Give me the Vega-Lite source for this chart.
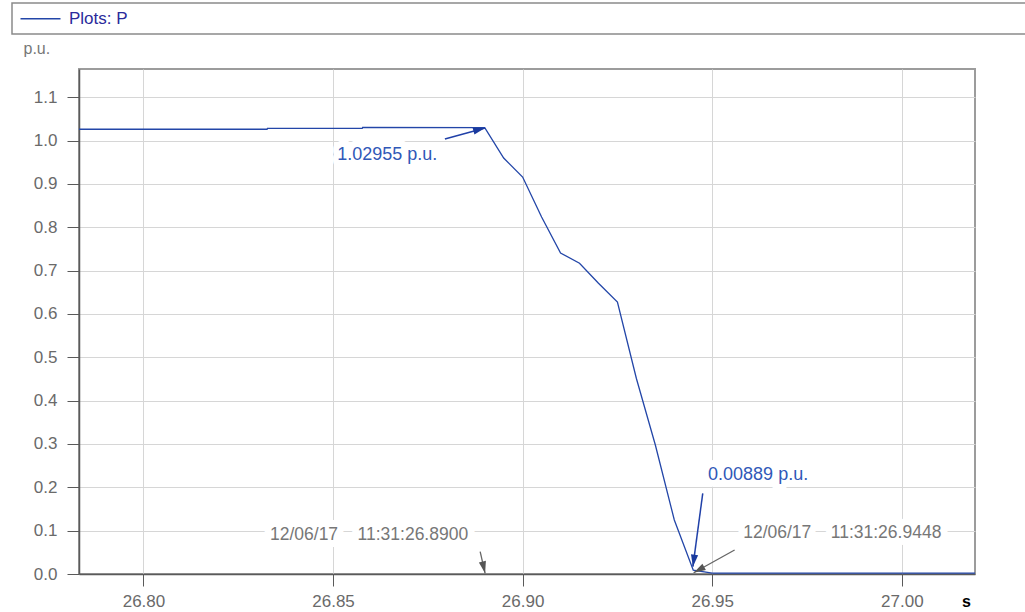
{
  "$schema": "https://vega.github.io/schema/vega-lite/v6.json",
  "autosize": {"type": "none"},
  "padding": {"left": 79, "top": 69, "right": 50, "bottom": 38},
  "width": 896,
  "height": 505,
  "background": "white",
  "config": {
    "font": "Liberation Sans",
    "view": {"stroke": "#9c9c9c", "strokeWidth": 2},
    "axis": {
      "labelFont": "Liberation Sans",
      "labelFontSize": 17,
      "labelColor": "#6a6a6a",
      "gridColor": "#d6d6d6",
      "gridWidth": 1,
      "domainColor": "#5a5a5a",
      "domainWidth": 1.5,
      "tickColor": "#5a5a5a",
      "tickSize": 12,
      "tickWidth": 1
    },
    "legend": {
      "orient": "none",
      "legendX": -67,
      "legendY": -66,
      "direction": "horizontal",
      "strokeColor": "#8a8a8a",
      "strokeWidth": 1.5,
      "padding": 7,
      "symbolType": "M-1.4,0L6.6,0",
      "symbolSize": 100,
      "symbolStrokeWidth": 1.3,
      "labelOffset": 33,
      "labelFont": "Liberation Sans",
      "labelFontSize": 17,
      "labelColor": "#2b2b9b",
      "columnPadding": 839,
      "title": null
    }
  },
  "datasets": {
    "series": [
      {"t": 26.7830, "v": 1.0260, "series": "Plots: P"},
      {"t": 26.8326, "v": 1.0260, "series": "Plots: P"},
      {"t": 26.8327, "v": 1.0280, "series": "Plots: P"},
      {"t": 26.8577, "v": 1.0280, "series": "Plots: P"},
      {"t": 26.8578, "v": 1.0300, "series": "Plots: P"},
      {"t": 26.8900, "v": 1.0296, "series": "Plots: P"},
      {"t": 26.8950, "v": 0.9596, "series": "Plots: P"},
      {"t": 26.9000, "v": 0.9158, "series": "Plots: P"},
      {"t": 26.9050, "v": 0.8235, "series": "Plots: P"},
      {"t": 26.9100, "v": 0.7405, "series": "Plots: P"},
      {"t": 26.9150, "v": 0.7170, "series": "Plots: P"},
      {"t": 26.9200, "v": 0.6706, "series": "Plots: P"},
      {"t": 26.9250, "v": 0.6275, "series": "Plots: P"},
      {"t": 26.9300, "v": 0.4510, "series": "Plots: P"},
      {"t": 26.9350, "v": 0.2976, "series": "Plots: P"},
      {"t": 26.9400, "v": 0.1246, "series": "Plots: P"},
      {"t": 26.9450, "v": 0.0089, "series": "Plots: P"},
      {"t": 26.9500, "v": 0.0020, "series": "Plots: P"},
      {"t": 27.0193, "v": 0.0020, "series": "Plots: P"}
    ],
    "arrows": [
      {"id": "a1", "kind": "value", "t1": 26.8795, "v1": 1.0035, "t2": 26.8901, "v2": 1.0288},
      {"id": "a2", "kind": "value", "t1": 26.9475, "v1": 0.1860, "t2": 26.9449, "v2": 0.0168},
      {"id": "a3", "kind": "time", "t1": 26.8888, "v1": 0.0514, "t2": 26.8901, "v2": 0.0016},
      {"id": "a4", "kind": "time", "t1": 26.9559, "v1": 0.0554, "t2": 26.9451, "v2": 0.0030}
    ],
    "labels": [
      {"kind": "value", "t": 26.8643, "v": 0.9666, "text": "1.02955 p.u."},
      {"kind": "value", "t": 26.9621, "v": 0.2295, "text": "0.00889 p.u."},
      {"kind": "time", "t": 26.8595, "v": 0.0911, "text": "12/06/17\u00a0\u00a0\u00a0\u00a011:31:26.8900"},
      {"kind": "time", "t": 26.9843, "v": 0.0957, "text": "12/06/17\u00a0\u00a0\u00a0\u00a011:31:26.9448"}
    ]
  },
  "encoding": {
    "x": {
      "field": "t",
      "type": "quantitative",
      "scale": {"domain": [26.783, 27.0193], "nice": false, "zero": false},
      "axis": {
        "values": [26.80, 26.85, 26.90, 26.95, 27.00],
        "format": ".2f",
        "labelPadding": 7,
        "labelFlush": false,
        "title": "s",
        "titleX": 887,
        "titleY": 32,
        "titleAlign": "center",
        "titleBaseline": "alphabetic",
        "titleFontWeight": "bold",
        "titleFontSize": 16,
        "titleColor": "#000000",
        "titleFont": "Liberation Sans"
      }
    },
    "y": {
      "field": "v",
      "type": "quantitative",
      "scale": {"domain": [0, 1.165], "nice": false, "zero": false},
      "axis": {
        "values": [0, 0.1, 0.2, 0.3, 0.4, 0.5, 0.6, 0.7, 0.8, 0.9, 1.0, 1.1],
        "format": ".1f",
        "labelPadding": 10,
        "title": "p.u.",
        "titleAngle": 0,
        "titleX": -56,
        "titleY": -16,
        "titleAlign": "left",
        "titleBaseline": "alphabetic",
        "titleFontWeight": "normal",
        "titleFontSize": 16,
        "titleColor": "#777777",
        "titleFont": "Liberation Sans"
      }
    }
  },
  "layer": [
    {
      "data": {"name": "series"},
      "mark": {"type": "line", "strokeWidth": 1.3, "clip": true},
      "encoding": {
        "color": {
          "field": "series",
          "type": "nominal",
          "scale": {"domain": ["Plots: P", "\u00a0"], "range": ["#2346a8", "rgba(0,0,0,0)"]}
        }
      }
    },
    {
      "data": {"name": "labels"},
      "mark": {"type": "text", "font": "Liberation Sans", "fontSize": 17.5, "stroke": "white", "strokeWidth": 14, "strokeJoin": "round", "fill": "white"},
      "encoding": {"text": {"field": "text"}}
    },
    {
      "data": {"name": "arrows"},
      "transform": [{"filter": "datum.kind == 'value'"}],
      "mark": {"type": "rule", "color": "#2040a8", "strokeWidth": 1.5},
      "encoding": {
        "x": {"field": "t1", "type": "quantitative"},
        "y": {"field": "v1", "type": "quantitative"},
        "x2": {"field": "t2"},
        "y2": {"field": "v2"}
      }
    },
    {
      "data": {"name": "arrows"},
      "transform": [{"filter": "datum.kind == 'time'"}],
      "mark": {"type": "rule", "color": "#666666", "strokeWidth": 1.3},
      "encoding": {
        "x": {"field": "t1", "type": "quantitative"},
        "y": {"field": "v1", "type": "quantitative"},
        "x2": {"field": "t2"},
        "y2": {"field": "v2"}
      }
    },
    {
      "data": {"name": "arrows"},
      "transform": [{"filter": "datum.id == 'a1'"}],
      "mark": {"type": "point", "shape": "M0,0L0.6,2L-0.6,2Z", "size": 144, "filled": true, "opacity": 1, "color": "#1a3a9e", "angle": 75},
      "encoding": {"x": {"field": "t2", "type": "quantitative"}, "y": {"field": "v2", "type": "quantitative"}}
    },
    {
      "data": {"name": "arrows"},
      "transform": [{"filter": "datum.id == 'a2'"}],
      "mark": {"type": "point", "shape": "M0,0L0.6,2L-0.6,2Z", "size": 144, "filled": true, "opacity": 1, "color": "#1a3a9e", "angle": 188},
      "encoding": {"x": {"field": "t2", "type": "quantitative"}, "y": {"field": "v2", "type": "quantitative"}}
    },
    {
      "data": {"name": "arrows"},
      "transform": [{"filter": "datum.id == 'a3'"}],
      "mark": {"type": "point", "shape": "M0,0L0.6,2L-0.6,2Z", "size": 144, "filled": true, "opacity": 1, "color": "#555555", "angle": 167},
      "encoding": {"x": {"field": "t2", "type": "quantitative"}, "y": {"field": "v2", "type": "quantitative"}}
    },
    {
      "data": {"name": "arrows"},
      "transform": [{"filter": "datum.id == 'a4'"}],
      "mark": {"type": "point", "shape": "M0,0L0.6,2L-0.6,2Z", "size": 144, "filled": true, "opacity": 1, "color": "#555555", "angle": 241},
      "encoding": {"x": {"field": "t2", "type": "quantitative"}, "y": {"field": "v2", "type": "quantitative"}}
    },
    {
      "data": {"name": "labels"},
      "transform": [{"filter": "datum.kind == 'value'"}],
      "mark": {"type": "text", "font": "Liberation Sans", "fontSize": 18, "color": "#3058b8"},
      "encoding": {"text": {"field": "text"}}
    },
    {
      "data": {"name": "labels"},
      "transform": [{"filter": "datum.kind == 'time'"}],
      "mark": {"type": "text", "font": "Liberation Sans", "fontSize": 17.5, "color": "#777777"},
      "encoding": {"text": {"field": "text"}}
    }
  ]
}
